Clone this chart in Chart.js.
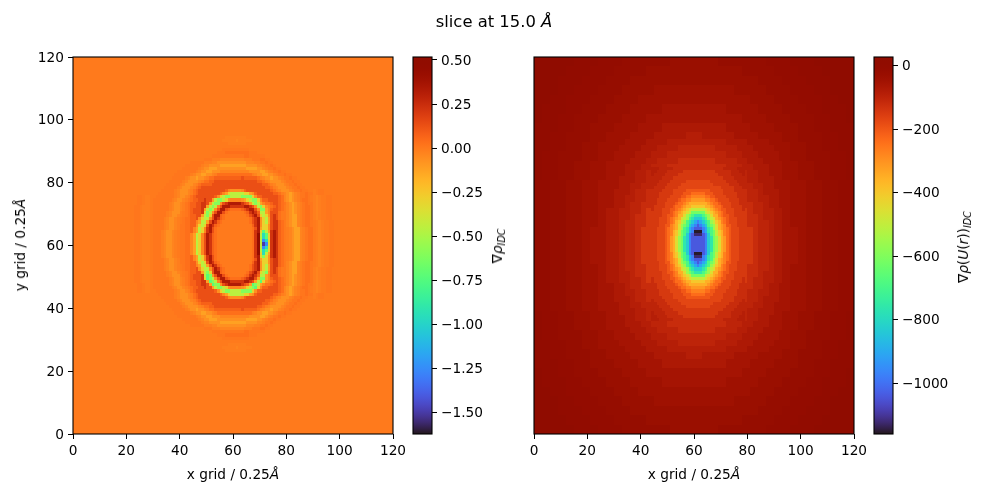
<!DOCTYPE html>
<html>
<head>
<meta charset="utf-8">
<script src="https://cdn.jsdelivr.net/npm/chart.js@4"></script>
<style>
  html, body { margin: 0; background: #fff; }
  #page { position: relative; width: 982px; height: 495px; overflow: hidden; }
  canvas { position: absolute; left: 0; top: 0; }
  .lbl { position: absolute; font: 13.7px "DejaVu Sans"; color: #000; white-space: nowrap; transform: translate(-50%, -50%); }
  .lbl.rot { transform: translate(-50%, -50%) rotate(-90deg); }
  .lbl sub { font-size: 9.6px; line-height: 0; vertical-align: -3px; }
</style>
</head>
<body>
<div id="page">
  <canvas id="rhoChart" width="982" height="495"></canvas>
  <canvas id="rhoBar" width="982" height="495"></canvas>
  <canvas id="potChart" width="982" height="495"></canvas>
  <canvas id="potBar" width="982" height="495"></canvas>
  <div class="lbl" style="left:494px;top:21px;font-size:16.4px">slice at 15.0 <i>Å</i></div>
  <div class="lbl" style="left:233px;top:474px">x grid / 0.25<i>Å</i></div>
  <div class="lbl" style="left:694px;top:474px">x grid / 0.25<i>Å</i></div>
  <div class="lbl rot" style="left:20px;top:245px">y grid / 0.25<i>Å</i></div>
  <div class="lbl rot" style="left:497px;top:246px">∇<i>ρ<sub>IDC</sub></i></div>
  <div class="lbl rot" style="left:963px;top:247px">∇<i>ρ</i>(<i>U</i>(<i>r</i>))<i><sub>IDC</sub></i></div>
</div>
<script>
const gridTicks = [0, 20, 40, 60, 80, 100, 120];
const rhoBarTicks = [-1.5, -1.25, -1, -0.75, -0.5, -0.25, 0, 0.25, 0.5];
const potBarTicks = [-1000, -800, -600, -400, -200, 0];
const rhoRange = [-1.62, 0.517];
const potRange = [-1160, 28];

// density levels, one character per grid cell
const rhoLevels = {
  "0": 0, z: 0.012, 1: 0.035, 2: 0.075, 3: 0.13, 4: 0.22, 5: 0.33, 6: 0.44,
  y: -0.012, a: -0.03, b: -0.065, c: -0.12, d: -0.3, e: -0.45, f: -0.6, g: -0.72,
  h: -0.95, i: -1.25, j: -1.5,
};

// rows from y=94 down to y=26, columns x=20..99 split by decade
const rhoTopY = 94;
const rhoLeftX = 20;
const rhoRows = [
  "0000000000 0000000000 0000000000 0000000yyy yyyyy00000 0000000000 0000000000 0000000000",
  "0000000000 0000000000 0000000000 000000yyyy yayyyyy000 0000000000 0000000000 0000000000",
  "0000000000 0000000000 0000000000 00000000yy yyyyy00000 0000000000 0000000000 0000000000",
  "0000000000 0000000000 0000000000 0000000000 0000000000 0000000000 0000000000 0000000000",
  "0000000000 0000000000 0000000000 000000zzzz zzzzzz0000 0000000000 0000000000 0000000000",
  "0000000000 0000000000 0000000000 0000zzz111 111111zzz0 0000000000 0000000000 0000000000",
  "0000000000 0000000000 0000000000 00zzzzzzzz zzzz11zzzz zz00000000 0000000000 0000000000",
  "0000000000 0000000000 000000000z zzyyyaaaaa aaaayyyzzz 11zz000000 0000000000 0000000000",
  "0000000000 0000000000 0000zzzzzy yyaabbbbbb bbbbbaaayy zz1zz00000 0000000000 0000000000",
  "0000000000 0000000000 00zzzzzzya abbbbccccc cccccbbbba ayzz1z0000 0000000000 0000000000",
  "0000000000 0000000000 0zzzzzzyab bcccbbbbbb bbbbbccccb bayzz1zz00 0000000000 0000000000",
  "0000000000 000000000z zzzzzzyabb ccbbbaaaaa aaaaaabbbb ccbayzz1zz 0000000000 0000000000",
  "0000000000 00000000zz zzzzyabbcc bbay111111 1111111yab bccbbayzz1 zz00000000 0000000000",
  "0000000000 0000000zzz zzyabbcbba y112222222 2223222221 yabbcbbayz z1zz000000 0000000000",
  "0000000000 000000zzzz zyabbbbay1 1223333333 3333333332 21yabbbbay zz1zz00000 0000000000",
  "0000000000 00000zzzzz yabbbay122 2233333333 3333333333 3221yabbba yzz1zz0000 0000000000",
  "0000000000 0000zzzzzy abbbay1233 3333333333 3333333333 33221yabbb ayzz1zz000 0000000000",
  "0000000000 000zzzzzya bbbay12333 33333332ab bbba233333 333321yabb bayzz1zz00 y0zz000000",
  "0000000000 00zzzzzzya bbbay12333 333332acde eeeeddcb23 33333221ya bcbayzz1zz y0zz000000",
  "0000zz0yy0 0zzzzzzzya bbay123333 3332bdeffe eeeffffdb2 233333321a bcbayzz1z0 yay00zz000",
  "0000zz0yy0 zzzzzzzyab bayz122334 33ceffedba aaabcdeffd a22333321a bcbayz11z0 yay00zz000",
  "0000zz0yy0 zzzzzzyabb ayz1223344 3ceffb3455 555432cefe ca1123321z abcbayz1zz yay00zz000",
  "000zz0yyy0 zzzzzzyabb ayz1223344 cefea35554 44445543be fdby123210 abcbayz11z yay00zz000",
  "000zz0yyy0 zzzzzzyabb ayz123334c efeb355321 111234553b ffca233210 abcbayz11z yay00zz000",
  "000zz0yyy0 zzzzzyabbb y0z123334d feb3553100 0000124542 eeca333100 abcbayz11z yay00zz000",
  "000zz0yyy0 zzzzzyabba y0z12233ce fd35521000 0000013453 dedb343100 abccayz11z yay00zz000",
  "000zz0yyy0 zzzzyabbay 0z11223bde eb35421000 0000001345 bdec343100 abccayz11z yay00zz000",
  "000zz0yyy0 zzzzyabbay 0z1122acee c354210000 0000001345 bdec344210 abccayz11z 0yay00zz00",
  "000zz0yyy0 zzzzyabbay zz1122bded 3542100000 0000000245 bddb344210 abccayz11z 0yay00zz00",
  "000zz0yyy0 zzzzyabbay zz112aceda 4531000000 0000000135 cddb344210 yabccayz11 0yay00zz00",
  "000zz0yyy0 zzzyabbay0 zz112aceda 4531000000 0000000145 dgec454210 yabccayz11 0yay00zz00",
  "000zz0yyy0 zzzyabbay0 zz11aceda3 5421000000 0000000146 ehgd454210 yabccayz11 0yay00zz00",
  "000zz0yyy0 zzzyabbay0 zz11aceda3 5421000000 0000000146 ehgd454210 yabccayz11 0yay00zz00",
  "000zz0yyy0 zzzyabbay0 zz11aceda3 5421000000 0000000146 eihd454210 yabccayz11 0yay00zz00",
  "000zz0yyy0 zzzyabbay0 zz11aceda3 5421000000 0000000146 ejid454210 yabccayz11 0yay00zz00",
  "000zz0yyy0 zzzyabbay0 zz11aceda3 5421000000 0000000146 eihd454210 yabccayz11 0yay00zz00",
  "000zz0yyy0 zzzyabbay0 zz11aceda3 5421000000 0000000146 ehgd454210 yabccayz11 0yay00zz00",
  "000zz0yyy0 zzzyabbay0 zz11aceda3 5421000000 0000000146 dhec454210 yabccayz11 0yay00zz00",
  "000zz0yyy0 zzzyabbay0 zz112aceda 4531000000 0000000145 dfdb454210 yabccayz11 0yay00zz00",
  "000zz0yyy0 zzzzyabbay zz112aceda 4531000000 0000000135 cddb344210 yabccayz11 0yay00zz00",
  "000zz0yyy0 zzzzyabbay zz1122bded 3542100000 0000000245 bddb344210 abccayz11z 0yay00zz00",
  "000zz0yyy0 zzzzyabbay 0z1122acee c354210000 0000001345 bdec344210 abccayz11z 0yay00zz00",
  "000zz0yyy0 zzzzyabbay 0z11223bde eb35421000 0000001345 bdec343100 abccayz11z yay00zz000",
  "000zz0yyy0 zzzzzyabba y0z12233ce fd35521000 0000013453 defb343100 abccayz11z yay00zz000",
  "000zz0yyy0 zzzzzyabbb y0z123334e gfb3553100 0000124542 eeca333100 abcbayz11z yay00zz000",
  "000zz0yyy0 zzzzzzyabb ayz123334d gfeb355321 111234553c ffca233210 abcbayz11z yay00zz000",
  "000zz0yyy0 zzzzzzyabb ayz1223344 cgfea35554 44445543ce gdby123210 abcbayz11z yay00zz000",
  "0000zz0yy0 zzzzzzyabb ayz1223344 3cgffb3455 555432cgfe ca1123321z abcbayz1zz yay00zz000",
  "0000zz0yy0 zzzzzzzyab bayz122334 33ceffedba aaabcdefgd a22333321a bcbayz11z0 yay00zz000",
  "0000zz0yy0 0zzzzzzzya bbay123333 3332bdeffe eeeffffdb2 233333321a bcbayzz1z0 yay00zz000",
  "0000000000 00zzzzzzya bbbay12333 333332acde eeeeddcb23 33333221ya bcbayzz1zz y0zz000000",
  "0000000000 000zzzzzya bbbay12333 33333332ab bbba233333 333321yabb bayzz1zz00 y0zz000000",
  "0000000000 0000zzzzzy abbbay1233 3333333333 3333333333 33221yabbb ayzz1zz000 0000000000",
  "0000000000 00000zzzzz yabbbay122 2233333333 3333333333 3221yabbba yzz1zz0000 0000000000",
  "0000000000 000000zzzz zyabbbbay1 1223333333 3333333332 21yabbbbay zz1zz00000 0000000000",
  "0000000000 0000000zzz zzyabbcbba y112222222 2223222221 yabbcbbayz z1zz000000 0000000000",
  "0000000000 00000000zz zzzzyabbcc bbay111111 1111111yab bccbbayzz1 zz00000000 0000000000",
  "0000000000 000000000z zzzzzzyabb ccbbbaaaaa aaaaaabbbb ccbayzz1zz 0000000000 0000000000",
  "0000000000 0000000000 0zzzzzzyab bcccbbbbbb bbbbbccccb bayzz1zz00 0000000000 0000000000",
  "0000000000 0000000000 00zzzzzzya abbbbccccc cccccbbbba ayzz1z0000 0000000000 0000000000",
  "0000000000 0000000000 0000zzzzzy yyaabbbbbb bbbbbaaayy zz1zz00000 0000000000 0000000000",
  "0000000000 0000000000 000000000z zzyyyaaaaa aaaayyyzzz 11zz000000 0000000000 0000000000",
  "0000000000 0000000000 0000000000 00zzzzzzzz zzzz11zzzz zz00000000 0000000000 0000000000",
  "0000000000 0000000000 0000000000 0000zzz111 111111zzz0 0000000000 0000000000 0000000000",
  "0000000000 0000000000 0000000000 000000zzzz zzzzzz0000 0000000000 0000000000 0000000000",
  "0000000000 0000000000 0000000000 0000000000 0000000000 0000000000 0000000000 0000000000",
  "0000000000 0000000000 0000000000 00000000yy yyyyy00000 0000000000 0000000000 0000000000",
  "0000000000 0000000000 0000000000 000000yyyy yayyyyy000 0000000000 0000000000 0000000000",
  "0000000000 0000000000 0000000000 0000000yyy yyyyy00000 0000000000 0000000000 0000000000",
];

// potential levels
const potLevels = {
  A: 22, B: 12, C: 2, D: -8, E: -18, F: -30, G: -42, H: -55, I: -70, J: -85, K: -100,
  L: -120, M: -145, N: -170, O: -200, P: -235, Q: -270, R: -310, S: -350, T: -400,
  U: -450, V: -500, W: -560, X: -620, Y: -690, Z: -760, a: -830, b: -900, c: -970,
  d: -1040, e: -1125, f: -1155,
};

// whole panel, 3 grid units per cell, from y=117 down to y=0
const potOuterRows = [
  "AABBBCCCDDDEEEEEEFFFFFFEEEEEEDDDCCCBBBAA",
  "ABBBCCCDDDEEEEFFFFFFFFFFFFEEEEDDDCCCBBBA",
  "ABBCCCDDDEEEFFFFFFFFFFFFFFFFEEEDDDCCCBBA",
  "BBBCCDDDEEEFFFFGGGGGGGGGGFFFFEEEDDDCCBBB",
  "BBCCDDDEEEFFFGGGGGGGGGGGGGGFFFEEEDDDCCBB",
  "BCCCDDEEEFFFGGGGHHHHHHHHGGGGFFFEEEDDCCCB",
  "BCCDDEEEFFFGGGHHHHHHHHHHHHGGGFFFEEEDDCCB",
  "CCCDDEEFFFGGGHHHIIIIIIIIHHHGGGFFFEEDDCCC",
  "CCDDEEEFFGGGHHHIIIIJJIIIIHHHGGGFFEEEDDCC",
  "CCDDEEFFGGGHHIIIJJJJJJJJIIIHHGGGFFEEDDCC",
  "CDDEEEFFGGHHIIJJKKKKKKKKJJIIHHGGFFEEEDDC",
  "CDDEEFFGGHHIIJJKKLLLLLLKKJJIIHHGGFFEEDDC",
  "CDDEEFFGGHHIIJKKLLMMMMLLKKJIIHHGGFFEEDDC",
  "DDEEFFGGHHIIJKKLMMMNNMMMLKKJIIHHGGFFEEDD",
  "DDEEFFGGHHIIJKLMNNNNNNNNMLKJIIHHGGFFEEDD",
  "DDEEFFGGHHIJKLLMNNNNNNNNMLLKJIHHGGFFEEDD",
  "DDEEFFGGHIIJKLMNNNNNNNNNNMLKJIIHGGFFEEDD",
  "DDEEFFGGHIIJKLMNNNNNNNNNNMLKJIIHGGFFEEDD",
  "DDEEFFGHHIJKLMMNNNNNNNNNNMMLKJIHHGFFEEDD",
  "DDEEFFGHHIJKLMMNNNNNNNNNNMMLKJIHHGFFEEDD",
  "DDEEFFGHHIJKLMMNNNNNNNNNNMMLKJIHHGFFEEDD",
  "DDEEFFGHHIJKLMMNNNNNNNNNNMMLKJIHHGFFEEDD",
  "DDEEFFGGHIIJKLMNNNNNNNNNNMLKJIIHGGFFEEDD",
  "DDEEFFGGHIIJKLMNNNNNNNNNNMLKJIIHGGFFEEDD",
  "DDEEFFGGHHIJKLLMNNNNNNNNMLLKJIHHGGFFEEDD",
  "DDEEFFGGHHIIJKLMNNNNNNNNMLKJIIHHGGFFEEDD",
  "DDEEFFGGHHIIJKKLMMMNNMMMLKKJIIHHGGFFEEDD",
  "CDDEEFFGGHHIIJKKLLMMMMLLKKJIIHHGGFFEEDDC",
  "CDDEEFFGGHHIIJJKKLLLLLLKKJJIIHHGGFFEEDDC",
  "CDDEEEFFGGHHIIJJKKKKKKKKJJIIHHGGFFEEEDDC",
  "CCDDEEFFGGGHHIIIJJJJJJJJIIIHHGGGFFEEDDCC",
  "CCDDEEEFFGGGHHHIIIIJJIIIIHHHGGGFFEEEDDCC",
  "CCCDDEEFFFGGGHHHIIIIIIIIHHHGGGFFFEEDDCCC",
  "BCCDDEEEFFFGGGHHHHHHHHHHHHGGGFFFEEEDDCCB",
  "BCCCDDEEEFFFGGGGHHHHHHHHGGGGFFFEEEDDCCCB",
  "BBCCDDDEEEFFFGGGGGGGGGGGGGGFFFEEEDDDCCBB",
  "BBBCCDDDEEEFFFFGGGGGGGGGGFFFFEEEDDDCCBBB",
  "ABBCCCDDDEEEFFFFFFFFFFFFFFFFEEEDDDCCCBBA",
  "ABBBCCCDDDEEEEFFFFFFFFFFFFEEEEDDDCCCBBBA",
  "AABBBCCCDDDEEEEEEFFFFFFEEEEEEDDDCCCBBBAA",
];

// around the well, 2 grid units per cell, x=30..90, from y=92 down to y=26
const potMidTopY = 92;
const potMidLeftX = 30;
const potMidRows = [
  "GGHHHHIIIIJJJJJJJJJJJIIIIHHHHGG",
  "GHHHHIIIJJJJKKKKKKKJJJJIIIHHHHG",
  "HHHHIIIJJJKKKKKKKKKKKJJJIIIHHHH",
  "HHHIIIJJKKKKLLLLLLLKKKKJJIIIHHH",
  "HHIIIJJKKKLLLLLLLLLLLKKKJJIIIHH",
  "HHIIJJKKKLLLMMMMMMMLLLKKKJJIIHH",
  "HIIIJJKKLLMMMMMMMMMMMLLKKJJIIIH",
  "HIIJJKKLLMMMNNNNNNNMMMLLKKJJIIH",
  "IIIJKKLLMMMNNNNNNNNNMMMLLKKJIII",
  "IIJJKKLMMMNNNNNNNNNNNMMMLKKJJII",
  "IIJKKLLMMNNNNNNNNNNNNNMMLLKKJII",
  "IJJKKLMMNNNNNNNNNNNNNNNMMLKKJJI",
  "IJJKLLMMNNNNNNNNNNNNNNNMMLLKJJI",
  "IJKKLLMMNNNNNNNNNNNNNNNMMLLKKJI",
  "IJKKLMMNNNNNNNNNNNNNNNNNMMLKKJI",
  "IJKKLMMNNNNNNNNNNNNNNNNNMMLKKJI",
  "IJKKLMMNNNNNNNNNNNNNNNNNMMLKKJI",
  "IJKKLMMNNNNNNNNNNNNNNNNNMMLKKJI",
  "IJKKLMMNNNNNNNNNNNNNNNNNMMLKKJI",
  "IJKKLMMNNNNNNNNNNNNNNNNNMMLKKJI",
  "IJKKLLMMNNNNNNNNNNNNNNNMMLLKKJI",
  "IJJKLLMMNNNNNNNNNNNNNNNMMLLKJJI",
  "IJJKKLMMNNNNNNNNNNNNNNNMMLKKJJI",
  "IIJKKLLMMNNNNNNNNNNNNNMMLLKKJII",
  "IIJJKKLMMMNNNNNNNNNNNMMMLKKJJII",
  "IIIJKKLLMMMNNNNNNNNNMMMLLKKJIII",
  "HIIJJKKLLMMMNNNNNNNMMMLLKKJJIIH",
  "HIIIJJKKLLMMMMMMMMMMMLLKKJJIIIH",
  "HHIIJJKKKLLLMMMMMMMLLLKKKJJIIHH",
  "HHIIIJJKKKLLLLLLLLLLLKKKJJIIIHH",
  "HHHIIIJJKKKKLLLLLLLKKKKJJIIIHHH",
  "HHHHIIIJJJKKKKKKKKKKKJJJIIIHHHH",
  "GHHHHIIIJJJJKKKKKKKJJJJIIIHHHHG",
  "GGHHHHIIIIJJJJJJJJJJJIIIIHHHHGG",
];

// centre of the well, 1 grid unit per cell, x=44..78, from y=84 down to y=36
const potCoreTopY = 84;
const potCoreLeftX = 44;
const potCoreRows = [
  "JJJKKKKKLLLLLLLLLLLLLLLLLLLKKKKKJJJ",
  "JJKKKKLLLLLLMMMMMMMMMMMMLLLLLLKKKJJ",
  "JKKKKLLLLLMMMMMMMMMMMMMMMLLLLLKKKKJ",
  "KKKKLLLLMMMMMMMMMMMMMMMMMMMLLLLKKKK",
  "KKKLLLLMMMMMMNNNNNNNNNMMMMMMLLLLKKK",
  "KKLLLLMMMMMNNNNNNNNNNNNMMMMMMLLLLKK",
  "KLLLLMMMMMNNNNNNNNNNNNNNNNMMMMMLLLK",
  "LLLLMMMMNNNNNOOOOOOOOONNNNNMMMMLLLL",
  "LLLMMMMMNNNNOOOPPPPPOOONNNNMMMMMLLL",
  "LLLMMMMNNNNOOPPQQQQQPPOONNNNMMMMLLL",
  "LLMMMMNNNNOPPQQRRRRRQQPPONNNNMMMMLL",
  "LLMMMNNNNOPPQRSSSSSSSRQPPONNNNMMMLL",
  "LMMMMNNNOPPQRSSTTTTTSSRQPPONNNMMMML",
  "LMMMNNNOOPQRSTUVVVVVUTSRQPOONNNMMML",
  "MMMMNNNOPQRSTUVXXXXXVUTSRQPONNNMMMM",
  "MMMMNNOOPQSSUWXYZZZYXWUSSQPOONNMMMM",
  "MMMNNNOPQRSUVWYZaaaZYWVUSRQPONNNMMM",
  "MMMNNNOPQSTVWYZabcbaZYWVTSQPONNNMMM",
  "MMMNNOOQRSUWXYabcdcbaYXWUSRQOONNMMM",
  "MMNNNOPQRSUWYZbcdddcbZYWUSRQPONNNMM",
  "MMNNNOPQSTVXYZbcfffcbZYXVTSQPONNNMM",
  "MMNNNOPQSTVXYacdeeedcaYXVTSQPONNNMM",
  "MMNNNOPRSUWXZacdddddcaZXWUSRPONNNMM",
  "MMNNNOPRSUWXZacdddddcaZXWUSRPONNNMM",
  "MMNNNOPRSUWXZacdddddcaZXWUSRPONNNMM",
  "MMNNNOPRSUWXZacdddddcaZXWUSRPONNNMM",
  "MMNNNOPRSUWXZacdddddcaZXWUSRPONNNMM",
  "MMNNNOPQSTVXYacdfffdcaYXVTSQPONNNMM",
  "MMNNNOPQSTVXYZbceeecbZYXVTSQPONNNMM",
  "MMNNNOPQRSUWYZbcdddcbZYWUSRQPONNNMM",
  "MMMNNOOQRSUWXYabcdcbaYXWUSRQOONNMMM",
  "MMMNNNOPQSTVWYZabcbaZYWVTSQPONNNMMM",
  "MMMNNNOPQRSUVWYZaaaZYWVUSRQPONNNMMM",
  "MMMMNNOOPQSSUWXYZZZYXWUSSQPOONNMMMM",
  "MMMMNNNOPQRSTUVXXXXXVUTSRQPONNNMMMM",
  "LMMMNNNOOPQRSTUVVVVVUTSRQPOONNNMMML",
  "LMMMMNNNOPPQRSSTTTTTSSRQPPONNNMMMML",
  "LLMMMNNNNOPPQRSSSSSSSRQPPONNNNMMMLL",
  "LLMMMMNNNNOPPQQRRRRRQQPPONNNNMMMMLL",
  "LLLMMMMNNNNOOPPQQQQQPPOONNNNMMMMLLL",
  "LLLMMMMMNNNNOOOPPPPPOOONNNNMMMMMLLL",
  "LLLLMMMMNNNNNOOOOOOOOONNNNNMMMMLLLL",
  "KLLLLMMMMMNNNNNNNNNNNNNNNNMMMMMLLLK",
  "KKLLLLMMMMMNNNNNNNNNNNNMMMMMMLLLLKK",
  "KKKLLLLMMMMMMNNNNNNNNNMMMMMMLLLLKKK",
  "KKKKLLLLMMMMMMMMMMMMMMMMMMMLLLLKKKK",
  "JKKKKLLLLLMMMMMMMMMMMMMMMLLLLLKKKKJ",
  "JJKKKKLLLLLLMMMMMMMMMMMMLLLLLLKKKJJ",
  "JJJKKKKKLLLLLLLLLLLLLLLLLLLKKKKKJJJ",
];

// turbo colormap polynomial
function turbo(t) {
  t = Math.min(1, Math.max(0, t));
  const poly = c => c[0] + t * (c[1] + t * (c[2] + t * (c[3] + t * (c[4] + t * c[5]))));
  const r = poly([0.13572138, 4.6153926, -42.66032258, 132.13108234, -152.94239396, 59.28637943]);
  const g = poly([0.09140261, 2.19418839, 4.84296658, -14.18503333, 4.27729857, 2.82956604]);
  const b = poly([0.1066733, 12.64194608, -60.58204836, 110.36276771, -89.90310912, 27.34824973]);
  const to8 = v => Math.round(255 * Math.min(1, Math.max(0, v)));
  return `rgb(${to8(r)},${to8(g)},${to8(b)})`;
}

// rows of level characters -> {x, y, v} cells
function rowsToCells(rows, levels, leftX, topY, step) {
  const cells = [];
  rows.forEach((row, j) => {
    row.replace(/ /g, "").split("").forEach((ch, i) => {
      cells.push({ x: leftX + i * step, y: topY - j * step, v: levels[ch] });
    });
  });
  return cells;
}

// draws each cell of a scatter dataset as a rectangle through the chart scales
const heatCells = {
  id: "heatCells",
  beforeDatasetsDraw(chart) {
    const { ctx, scales: { x, y } } = chart;
    const range = chart.options.plugins.heatCells.range;
    chart.data.datasets.forEach(ds => {
      ds.data.forEach(p => {
        const x0 = Math.round(x.getPixelForValue(p.x));
        const x1 = Math.round(x.getPixelForValue(p.x + ds.cellSize));
        const y0 = Math.round(y.getPixelForValue(p.y + ds.cellSize));
        const y1 = Math.round(y.getPixelForValue(p.y));
        ctx.fillStyle = turbo((p.v - range[0]) / (range[1] - range[0]));
        ctx.fillRect(x0, y0, x1 - x0, y1 - y0);
      });
    });
  },
};

// black frame round the axes
const frame = {
  id: "frame",
  afterDraw(chart) {
    const { ctx, chartArea: a } = chart;
    ctx.save();
    ctx.strokeStyle = "#000";
    ctx.lineWidth = 1.1;
    ctx.strokeRect(a.left, a.top, a.right - a.left, a.bottom - a.top);
    ctx.restore();
  },
};

Chart.defaults.font.family = "DejaVu Sans";
Chart.defaults.font.size = 13.7;
Chart.defaults.color = "#000";
Chart.defaults.animation = false;
Chart.defaults.responsive = false;
Chart.defaults.plugins.legend.display = false;
Chart.defaults.plugins.tooltip.enabled = false;

const minus = v => String(v).replace("-", "\u2212");
const tickGrid = { drawOnChartArea: false, tickLength: 5, tickColor: "#000", tickWidth: 1 };

// y tick labels sit 1px lower than the canvas middle baseline puts them
function nudgeLabels(scale) {
  if (scale.nudged) return;
  scale.nudged = true;
  const draw = scale.drawLabels;
  scale.drawLabels = function (area) {
    this.ctx.save();
    this.ctx.translate(0, 1);
    draw.call(this, area);
    this.ctx.restore();
  };
}

function heatChart(id, left, showY, datasets, range) {
  const yWidth = showY ? 40 : 0;
  return new Chart(document.getElementById(id), {
    type: "scatter",
    data: { datasets },
    plugins: [heatCells, frame],
    options: {
      elements: { point: { radius: 0 } },
      layout: { padding: { left: left - yWidth, right: 982 - left - 320, top: 57, bottom: 0 } },
      plugins: { heatCells: { range } },
      scales: {
        x: {
          type: "linear", min: 0, max: 120,
          border: { display: false }, grid: tickGrid,
          ticks: { padding: 4, maxRotation: 0 },
          afterBuildTicks: s => { s.ticks = gridTicks.map(value => ({ value })); },
          afterFit: s => { s.height = 61; },
        },
        y: {
          type: "linear", min: 0, max: 120, display: showY,
          border: { display: false }, grid: tickGrid,
          ticks: { padding: 4 },
          afterBuildTicks: s => { s.ticks = gridTicks.map(value => ({ value })); },
          afterFit: s => { s.width = yWidth; nudgeLabels(s); },
        },
      },
    },
  });
}

function colorBar(id, left, range, tickValues, fmt) {
  const yWidth = 60;
  return new Chart(document.getElementById(id), {
    type: "bar",
    data: {
      labels: [""],
      datasets: [{
        data: [range],
        barPercentage: 1,
        categoryPercentage: 1,
        backgroundColor: c => {
          const a = c.chart.chartArea;
          if (!a) return "#000";
          const g = c.chart.ctx.createLinearGradient(0, a.bottom, 0, a.top);
          for (let k = 0; k <= 64; k++) g.addColorStop(k / 64, turbo(k / 64));
          return g;
        },
      }],
    },
    plugins: [frame],
    options: {
      layout: { padding: { left, right: 982 - left - 19 - yWidth, top: 57, bottom: 61 } },
      scales: {
        x: { display: false },
        y: {
          position: "right", min: range[0], max: range[1],
          border: { display: false }, grid: tickGrid,
          ticks: { padding: 4, callback: fmt },
          afterBuildTicks: s => { s.ticks = tickValues.map(value => ({ value })); },
          afterFit: s => { s.width = yWidth; nudgeLabels(s); },
        },
      },
    },
  });
}

heatChart("rhoChart", 73, true, [
  { data: [{ x: 0, y: 0, v: 0 }], cellSize: 120 },
  { data: rowsToCells(rhoRows, rhoLevels, rhoLeftX, rhoTopY, 1), cellSize: 1 },
], rhoRange);

heatChart("potChart", 534, false, [
  { data: rowsToCells(potOuterRows, potLevels, 0, 117, 3), cellSize: 3 },
  { data: rowsToCells(potMidRows, potLevels, potMidLeftX, potMidTopY, 2), cellSize: 2 },
  { data: rowsToCells(potCoreRows, potLevels, potCoreLeftX, potCoreTopY, 1), cellSize: 1 },
], potRange);

colorBar("rhoBar", 413, rhoRange, rhoBarTicks, v => minus(v.toFixed(2)));
colorBar("potBar", 874, potRange, potBarTicks, v => minus(v));
</script>
</body>
</html>
